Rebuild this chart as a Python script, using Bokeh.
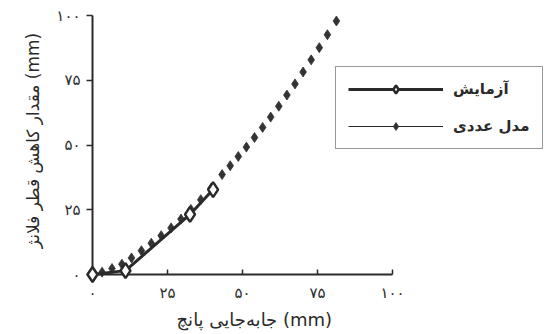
from bokeh.plotting import figure
from bokeh.models import Range1d, FixedTicker, Legend, LegendItem, ColumnDataSource, Title
from bokeh.embed import file_html
from bokeh.resources import INLINE

# ---- data ----
tick_values = [0, 25, 50, 75, 100]
tick_labels = ["۰", "۲۵", "۵۰", "۷۵", "۱۰۰"]

exp_x = [0, 11, 32.5, 40.2]
exp_y = [0, 1.5, 23.2, 32.8]

model_x = [0, 3.2, 6.5, 9.8, 13.0, 16.3, 19.6, 22.9, 26.2, 29.5, 32.8, 36.1, 39.5,
           43.2, 45.9, 48.6, 51.3, 54.0, 56.7, 59.4, 62.1, 64.8, 67.5, 70.2, 72.9,
           75.6, 78.3, 81.3]
model_y = [0, 0.9, 2.3, 4.0, 6.4, 9.2, 12.1, 15.0, 18.0, 21.4, 25.1, 28.9, 33.3,
           38.6, 42.0, 45.6, 49.2, 52.9, 56.8, 60.8, 65.0, 69.3, 73.6, 78.2, 82.9,
           87.6, 92.6, 97.9]

series_names = ["آزمایش", "مدل عددی"]
x_title = "جابه‌جایی پانچ (mm)"
y_title = "مقدار کاهش قطر فلانژ (mm)"

# ---- figure ----
INK = "#2a2a2a"
FONT = "DejaVu Sans"

p = figure(width=554, height=334, x_range=Range1d(0, 154), y_range=Range1d(0, 103.5),
           output_backend="svg", toolbar_location=None,
           min_border_left=92, min_border_right=0, min_border_top=6, min_border_bottom=60)
p.grid.visible = False
p.outline_line_color = None
p.background_fill_color = "white"
p.border_fill_color = "white"

for ax in (p.xaxis[0], p.yaxis[0]):
    ax.bounds = (0, 100)
    ax.ticker = FixedTicker(ticks=tick_values)
    ax.major_label_overrides = {v: t for v, t in zip(tick_values, tick_labels)}
    ax.minor_tick_line_color = None
    ax.axis_line_color = INK
    ax.axis_line_width = 2
    ax.major_tick_line_color = INK
    ax.major_tick_line_width = 1.5
    ax.major_label_text_font = FONT
    ax.major_label_text_font_size = "15px"
    ax.major_label_text_color = INK
    ax.axis_label_text_font = FONT
    ax.axis_label_text_font_style = "normal"
    ax.axis_label_text_color = INK

xa = p.xaxis[0]
xa.major_tick_in = 5
xa.major_tick_out = 0
xa.major_label_standoff = 9

ya = p.yaxis[0]
ya.axis_label = y_title
ya.axis_label_text_font_size = "17px"
ya.major_tick_in = 0
ya.major_tick_out = 6
ya.major_label_standoff = 6
ya.axis_label_standoff = 10

p.add_layout(Title(text=x_title, align="left", offset=84, text_font=FONT,
                   text_font_size="18px", text_font_style="normal", text_color=INK,
                   standoff=4), "below")

exp_src = ColumnDataSource(dict(x=exp_x, y=exp_y))
mod_src = ColumnDataSource(dict(x=model_x, y=model_y))

# model (dense diamonds) first
mod_pts = p.scatter("x", "y", source=mod_src, marker="diamond", size=10,
                    fill_color="#333333", line_color="#333333", line_width=0.8,
                    level="overlay")
# thin line shown only in the legend (a single point draws no segment)
mod_line = p.line(x=model_x[:1], y=model_y[:1], line_color=INK, line_width=1)

exp_line = p.line("x", "y", source=exp_src, line_color=INK, line_width=3, level="overlay")
exp_pts = p.scatter("x", "y", source=exp_src, marker="diamond", size=15,
                    fill_color="white", line_color=INK, line_width=2.5, level="overlay")

legend = Legend(items=[LegendItem(label=series_names[0], renderers=[exp_line, exp_pts]),
                       LegendItem(label=series_names[1], renderers=[mod_line, mod_pts])],
                location=(243, 125))
legend.label_text_font = FONT
legend.label_text_font_size = "15px"
legend.label_text_font_style = "bold"
legend.label_text_color = INK
legend.border_line_color = "#333333"
legend.border_line_width = 1.5
legend.background_fill_color = "white"
legend.background_fill_alpha = 1
legend.glyph_width = 95
legend.glyph_height = 20
legend.label_height = 20
legend.label_width = 76
legend.label_standoff = 10
legend.padding = 12
legend.spacing = 17
legend.margin = 0
p.add_layout(legend, "center")

open("out.html", "w").write(file_html(p, INLINE))
